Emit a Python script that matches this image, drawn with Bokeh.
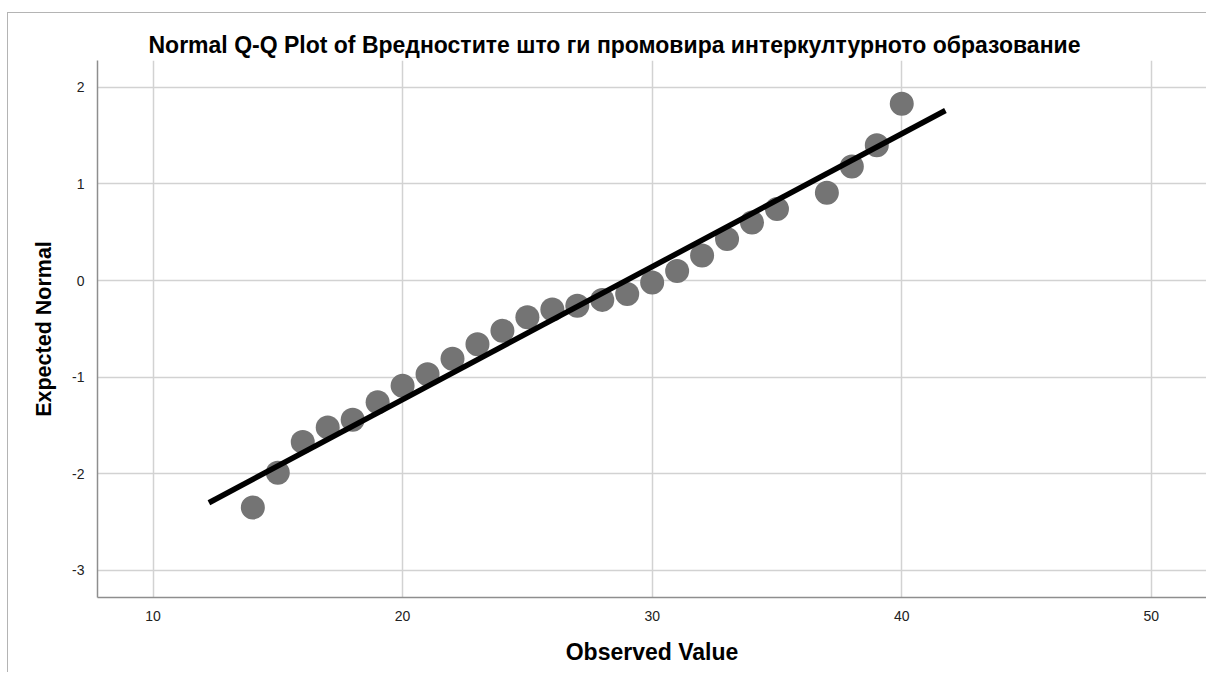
from bokeh.plotting import figure
from bokeh.models import Range1d, FixedTicker, Title
from bokeh.embed import file_html
from bokeh.resources import INLINE

# Observed scores and their expected normal quantiles
observed = [14, 15, 16, 17, 18, 19, 20, 21, 22, 23, 24, 25, 26,
            27, 28, 29, 30, 31, 32, 33, 34, 35, 37, 38, 39, 40]
expected = [-2.35, -1.99, -1.67, -1.52, -1.44, -1.26, -1.09, -0.97, -0.81,
            -0.66, -0.52, -0.38, -0.30, -0.26, -0.20, -0.14, -0.02, 0.10,
            0.26, 0.43, 0.60, 0.74, 0.91, 1.18, 1.40, 1.83]

# Reference line of the fitted normal distribution (end points)
ref_x = [12.24, 41.75]
ref_y = [-2.30, 1.76]

x_ticks = [10, 20, 30, 40, 50]
y_ticks = [-3, -2, -1, 0, 1, 2]

FONT = "Liberation Sans"

p = figure(
    width=1199, height=660,
    output_backend="svg", toolbar_location=None,
    x_range=Range1d(7.776, 52.21), y_range=Range1d(-3.281, 2.278),
    min_border_left=89, min_border_right=1, min_border_top=47, min_border_bottom=76,
    margin=(12, 0, 0, 7),
    styles={"border-left": "1px solid #b4b4b4", "border-top": "1px solid #b4b4b4"},
    background_fill_color="white", border_fill_color="white",
)
p.outline_line_color = None

title = Title(
    text="Normal Q-Q Plot of Вредностите што ги промовира интеркултурното образование",
    text_font=FONT, text_font_size="23px", text_font_style="bold",
    text_color="#000000", align="left", offset=51, standoff=5,
)
p.add_layout(title, "above")

# Grid
p.xgrid.ticker = FixedTicker(ticks=x_ticks)
p.ygrid.ticker = FixedTicker(ticks=y_ticks)
for g in (p.xgrid, p.ygrid):
    g.grid_line_color = "#d2d2d2"
    g.grid_line_width = 1.5

# Axes
p.xaxis.ticker = FixedTicker(ticks=x_ticks)
p.yaxis.ticker = FixedTicker(ticks=y_ticks)
for ax in (p.xaxis, p.yaxis):
    ax.axis_line_color = "#8e8e8e"
    ax.axis_line_width = 1.5
    ax.major_tick_line_color = None
    ax.minor_tick_line_color = None
    ax.major_label_text_font = FONT
    ax.major_label_text_font_size = "14px"
    ax.major_label_text_color = "#222222"
    ax.axis_label_text_font = FONT
    ax.axis_label_text_font_style = "bold"
    ax.axis_label_text_color = "#000000"

# Plain hyphen-minus on the negative tick labels
p.yaxis.major_label_overrides = {t: str(t) for t in y_ticks}

p.xaxis.axis_label = "Observed Value"
p.yaxis.axis_label = "Expected Normal"
p.xaxis.axis_label_text_font_size = "23px"
p.yaxis.axis_label_text_font_size = "21.5px"
p.xaxis.major_label_standoff = 7
p.yaxis.major_label_standoff = 7
p.xaxis.axis_label_standoff = 15
p.yaxis.axis_label_standoff = 13

# Points, then the reference line on top
p.scatter(observed, expected, size=24, fill_color="#747474", line_color=None)
p.line(ref_x, ref_y, line_color="#000000", line_width=5.5)

open("out.html", "w").write(file_html(p, INLINE))
